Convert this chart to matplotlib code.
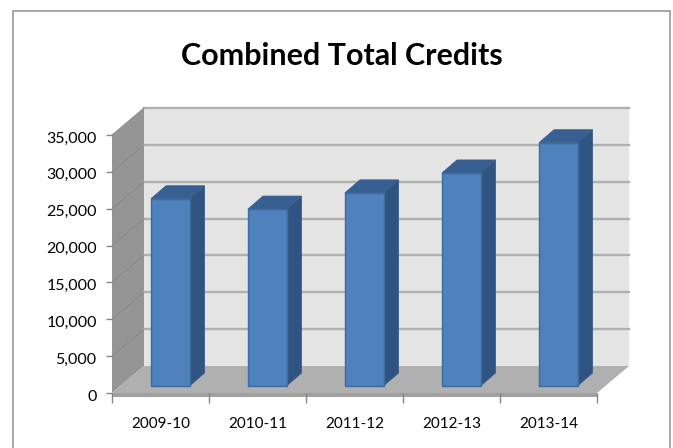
import matplotlib
matplotlib.use("Agg")
import matplotlib.pyplot as plt
from matplotlib.patches import Polygon, Rectangle
from matplotlib.transforms import ScaledTranslation

# values
seasons = ["2009-10", "2010-11", "2011-12", "2012-13", "2013-14"]
credits = [25400, 24000, 26200, 28900, 33000]
y_ticks = [0, 5000, 10000, 15000, 20000, 25000, 30000, 35000]

W, H = 673, 448
plt.rcParams["font.family"] = ["Lato", "DejaVu Sans"]

fig = plt.figure(figsize=(W / 100, H / 100), dpi=100)
# frame of the chart, its bottom edge falls outside the picture
fig.add_artist(Rectangle((13 / W, -0.05), 657 / W, 1.05 - 11 / H, transform=fig.transFigure,
                         fc="white", ec="#a6a6a6", lw=1.4, zorder=-1))

# axes = front plane of the 3d box
ax = fig.add_axes([112 / W, 1 - 393 / H, 485 / W, 258 / H])
ax.set_xlim(0, 5)
ax.set_ylim(0, 35000)
ax.patch.set_visible(False)
for s in ax.spines.values():
    s.set_visible(False)

# depth of the box in data units
dx = 32 / 97
dy = 27 / 258 * 35000

# back wall, side wall, floor
ax.add_patch(Polygon([(dx, dy), (5 + dx, dy), (5 + dx, 35000 + dy), (dx, 35000 + dy)], fc="#e4e4e4", ec="none",
                     zorder=1, clip_on=False))
ax.add_patch(Polygon([(0, 0), (dx, dy), (dx, 35000 + dy), (0, 35000)], fc="#959595", ec="none",
                     zorder=1, clip_on=False))
ax.add_patch(Polygon([(0, 0), (5, 0), (5 + dx, dy), (dx, dy)], fc="#b0b0b0", ec="none",
                     zorder=1, clip_on=False))
# lip on the front of the floor
lip = 4 / 258 * 35000
ax.add_patch(Polygon([(0, 0), (5, 0), (5, -lip), (0, -lip)], fc="#a0a0a0", ec="none",
                     zorder=1, clip_on=False))

# gridlines run along the back wall and down the side wall
for v in y_ticks[1:]:
    ax.plot([dx, 5 + dx], [v + dy, v + dy], color="#b0b0b0", lw=1.7, zorder=2, clip_on=False)
    ax.plot([0, dx], [v, v + dy], color="#878787", lw=0.6, zorder=2, clip_on=False)

# bars sit a quarter of the way into the box
bar_w = 38.5 / 97
off = 39 / 97
bar_base = 7 / 258 * 35000
side_x = 15 / 97
side_y = 13 / 258 * 35000
for i, v in enumerate(credits):
    x0 = i + off
    x1 = x0 + bar_w
    top = v + bar_base
    ax.add_patch(Polygon([(x1, bar_base), (x1 + side_x, bar_base + side_y), (x1 + side_x, top + side_y), (x1, top)],
                         fc="#2f5482", ec="#3a5f8e", lw=0.6, zorder=3, clip_on=False))
    ax.add_patch(Polygon([(x0, top), (x1, top), (x1 + side_x, top + side_y), (x0 + side_x, top + side_y)],
                         fc="#385f91", ec="#3a5f8e", lw=0.6, zorder=3, clip_on=False))
    ax.add_patch(Rectangle((x0, bar_base), bar_w, v, fc="#4f81bd", ec="#3d6a9f", lw=1.0, zorder=4, clip_on=False))

ax.set_yticks(y_ticks)
ax.set_yticklabels([f"{v:,}" for v in y_ticks], fontsize=11.5, color="black")
ax.set_xticks(range(6))
ax.set_xticklabels([])
ax.set_xticks([i + 0.5 for i in range(5)], minor=True)
ax.set_xticklabels(seasons, minor=True, fontsize=11, color="black")
ax.tick_params(axis="y", length=4, width=1, color="#868686", pad=7)
ax.tick_params(axis="x", which="major", length=7, width=1, color="#868686", pad=0)
ax.tick_params(axis="x", which="minor", length=0, pad=17)

# y labels sit slightly below their ticks in the original
nudge = ScaledTranslation(0, -2 / 100, fig.dpi_scale_trans)
for lab in ax.get_yticklabels():
    lab.set_transform(lab.get_transform() + nudge)

fig.text(342 / W, 1 - 56 / H, "Combined Total Credits", ha="center", va="center",
         fontsize=22, fontweight="bold", color="black")

fig.savefig("out.png", dpi=100)
